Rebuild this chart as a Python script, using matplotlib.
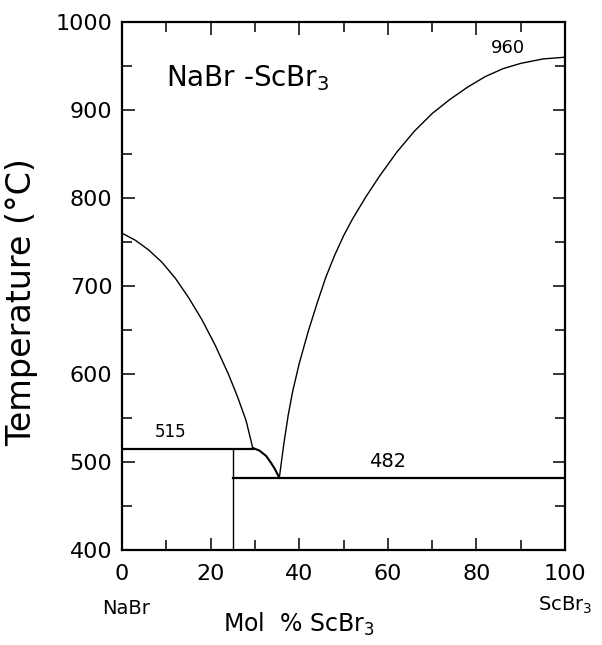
import matplotlib
matplotlib.use("Agg")
import matplotlib.pyplot as plt
from matplotlib.ticker import MultipleLocator

plt.rcParams['font.family'] = ['DejaVu Sans']
plt.rcParams['mathtext.default'] = 'regular'

# liquidus, NaBr side (mol % ScBr3, deg C)
left_x = [0, 3, 6, 9, 12, 15, 18, 21, 24, 26, 28, 29.5]
left_t = [760, 752, 741, 727, 709, 687, 662, 633, 600, 575, 547, 516]
# peritectic -> eutectic bend
bend_x = [29.5, 31, 32.5, 33.5, 34.5, 35.5]
bend_t = [516, 513, 507, 500, 492, 482]
# liquidus, ScBr3 side
right_x = [35.5, 36.5, 37.5, 38.5, 40, 42, 44, 46, 48, 50, 52, 55, 58,
           62, 66, 70, 74, 78, 82, 86, 90, 95, 100]
right_t = [482, 520, 553, 580, 612, 648, 680, 710, 735, 757, 776, 801, 824,
           852, 876, 896, 912, 926, 938, 947, 953, 958, 960]
# invariant lines
peritectic_t = 515
eutectic_t = 482
compound_x = 25

fig = plt.figure(figsize=(6.02, 6.45), dpi=100)
ax = fig.add_axes([0.2027, 0.1473, 0.736, 0.8186])

lw = 1.0
ax.plot(left_x, left_t, color='black', lw=lw)
ax.plot(bend_x, bend_t, color='black', lw=lw + 0.5)
ax.plot(right_x, right_t, color='black', lw=lw)
ax.plot([0, left_x[-1]], [peritectic_t, peritectic_t], color='black', lw=lw + 0.6)
ax.plot([compound_x, 100], [eutectic_t, eutectic_t], color='black', lw=lw + 0.6)
ax.plot([compound_x, compound_x], [400, peritectic_t], color='black', lw=lw)

ax.set_xlim(0, 100)
ax.set_ylim(400, 1000)
ax.xaxis.set_major_locator(MultipleLocator(20))
ax.xaxis.set_minor_locator(MultipleLocator(10))
ax.yaxis.set_major_locator(MultipleLocator(100))
ax.yaxis.set_minor_locator(MultipleLocator(50))
ax.tick_params(which='both', direction='in', top=True, right=True,
               labelsize=16, width=1.1, pad=7)
ax.tick_params(axis='x', pad=10)
ax.tick_params(which='major', length=9)
ax.tick_params(which='minor', length=7)
for s in ax.spines.values():
    s.set_linewidth(1.6)

ax.set_ylabel('Temperature (°C)', fontsize=24)
ax.yaxis.set_label_coords(-0.19, 0.47)
ax.set_xlabel('Mol  % ScBr$_3$', fontsize=17)
ax.xaxis.set_label_coords(0.40, -0.115)

ax.text(10, 936, 'NaBr -ScBr$_3$', fontsize=20, va='center')
ax.text(11, 534, '515', fontsize=12, ha='center', va='center')
ax.text(60, 500, '482', fontsize=14, ha='center', va='center')
ax.text(87, 970, '960', fontsize=13, ha='center', va='center')
ax.text(1, -0.11, 'NaBr', transform=ax.get_xaxis_transform(),
        fontsize=14, ha='center', va='center')
ax.text(100, -0.105, 'ScBr$_3$', transform=ax.get_xaxis_transform(),
        fontsize=14, ha='center', va='center')

fig.savefig('out.png', dpi=100)
